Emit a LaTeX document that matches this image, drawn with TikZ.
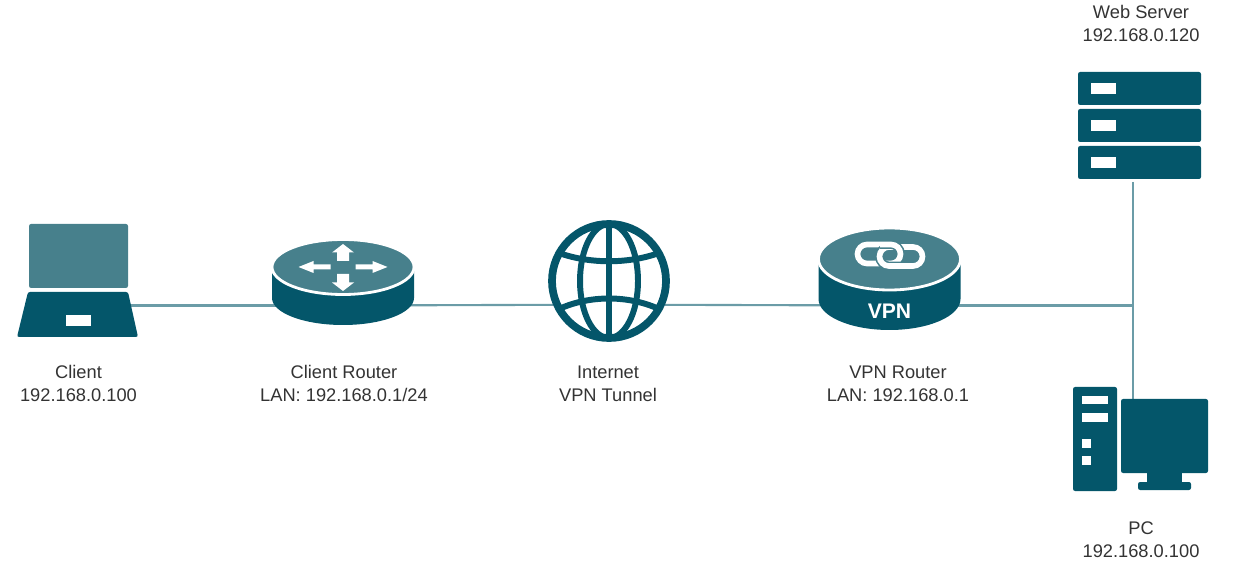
\documentclass[tikz,border=0pt]{standalone}
\usepackage{fontspec}
\setmainfont{Liberation Sans}
\usetikzlibrary{calc}
\definecolor{icondark}{HTML}{04566A}
\definecolor{iconlight}{HTML}{47808C}
\definecolor{linkcolor}{HTML}{6B9CA7}
\definecolor{labelcolor}{HTML}{333333}
\tikzset{
	devicebox/.style={inner sep=0pt, outer sep=0pt, minimum width=#1},
	link/.style={draw=linkcolor, line width=1.2pt},
	devlabel/.style={align=center, text=labelcolor, inner sep=0pt, font=\fontsize{10.4}{13.1}\selectfont},
	darkpart/.style={fill=icondark, rounded corners=1.2pt},
	lightpart/.style={fill=iconlight, rounded corners=1.2pt},
	cutout/.style={fill=white},
	ringline/.style={draw=white, line width=3.2pt, rounded corners=5.4pt},
	ringhalo/.style={draw=iconlight, line width=5pt, rounded corners=5.4pt},
	globeline/.style={draw=icondark, line width=3.4pt}
}
\begin{document}
\begin{tikzpicture}[x=0.02cm, y=-0.02cm]
	\useasboundingbox (0,0) rectangle (1250,563);

	\node[devicebox=2.42cm, minimum height=2.26cm] (client) at (77.5,280.5) {};
	\node[devicebox=2.84cm, minimum height=1.72cm] (clientrouter) at (343,283) {};
	\node[devicebox=2.44cm, minimum height=2.44cm, circle] (internet) at (609,281) {};
	\node[devicebox=2.82cm, minimum height=2.04cm] (vpnrouter) at (889.5,279) {};
	\node[devicebox=2.46cm, minimum height=2.12cm] (server) at (1139.5,125) {};
	\node[devicebox=0.88cm, minimum height=2.08cm] (tower) at (1095,439) {};
	\node[devicebox=1.74cm, minimum height=1.82cm] (monitor) at (1164.5,444.5) {};
	\coordinate (hub) at (1133,305.5);

	\draw[link] (client |- hub) -- (clientrouter |- hub);
	\draw[link] (clientrouter |- hub) -- (internet.203.68);
	\draw[link] (internet.-23.68) -- (vpnrouter |- hub);
	\draw[link] (vpnrouter |- hub) -- (hub);
	\draw[link, shorten <=2.2pt] (server.south -| hub) -- (hub);
	\draw[link] (hub) -- (monitor.north -| hub);

	% laptop
	\fill[lightpart] (29,224) rectangle (128,288);
	\fill[darkpart] (28,292) -- (128,292) -- (138,337) -- (17,337) -- cycle;
	\fill[cutout] (66,315) rectangle (91,326);

	% client router
	\fill[icondark] (272,270) -- (272,298) arc[start angle=180, end angle=0, x radius=71, y radius=27] -- (414,270) -- cycle;
	\filldraw[fill=iconlight, draw=white, line width=1.6pt] (343,267) ellipse [x radius=71, y radius=27.5];
	\foreach \s in {1,-1} {
		\fill[cutout] ($(343,267)+(\s*12.5,-2.5)$) -- ++(\s*17,0) -- ++(0,-3.5) -- ++(\s*15,6) -- ++(-\s*15,6) -- ++(0,-3.5) -- ++(-\s*17,0) -- cycle;
		\fill[cutout] ($(343,267.5)+(-6,\s*6.5)$) -- ++(0,\s*8.5) -- ++(-5,0) -- ++(11,\s*8.5) -- ++(11,-\s*8.5) -- ++(-5,0) -- ++(0,-\s*8.5) -- cycle;
	}

	% globe
	\draw[draw=icondark, line width=4.4pt] (internet) circle [radius=57];
	\draw[globeline] (609,281) ellipse [x radius=29, y radius=57];
	\draw[globeline] (609,224) -- (609,338);
	\draw[globeline] (559,253) .. controls (590,264) and (628,264) .. (659,253);
	\draw[globeline] (559,309) .. controls (590,295) and (628,295) .. (659,309);

	% vpn router
	\fill[icondark] (818.5,262) -- (818.5,299) arc[start angle=180, end angle=0, x radius=71, y radius=31] -- (960.5,262) -- cycle;
	\filldraw[fill=iconlight, draw=white, line width=1.6pt] (889.5,259) ellipse [x radius=71, y radius=31];
	\draw[ringline] (857.5,244.5) rectangle (900.5,263.5);
	\draw[ringhalo] (879.5,247) rectangle (922.5,266);
	\draw[ringline] (879.5,247) rectangle (922.5,266);
	\begin{scope}
		\clip (880,240) rectangle (910,253);
		\draw[ringhalo] (857.5,244.5) rectangle (900.5,263.5);
		\draw[ringline] (857.5,244.5) rectangle (900.5,263.5);
	\end{scope}
	\node[text=white, inner sep=0pt, font=\fontsize{12}{14}\selectfont\bfseries] (vpntext) at (889.5,311) {VPN};

	% server
	\foreach \top in {72,109,146} {
		\fill[darkpart] (1078,\top) rectangle (1201,\top+33);
		\fill[cutout] (1091,\top+11) rectangle (1116,\top+22);
	}

	% pc
	\fill[darkpart] (1073,387) rectangle (1117,491);
	\fill[cutout] (1082,396) rectangle (1108,404);
	\fill[cutout] (1082,413) rectangle (1108,422);
	\fill[cutout] (1082,439) rectangle (1091,448);
	\fill[cutout] (1082,456) rectangle (1091,465);
	\fill[darkpart] (1121,399) rectangle (1208,473);
	\fill[icondark] (1147,472) rectangle (1182,483);
	\fill[darkpart] (1138,482) rectangle (1191,490);

	\node[devlabel] (clientlabel) at (78.5,383.5) {Client\\192.168.0.100};
	\node[devlabel] (clientrouterlabel) at (344,383.5) {Client Router\\LAN: 192.168.0.1/24};
	\node[devlabel] (internetlabel) at (608,383.5) {Internet\\VPN Tunnel};
	\node[devlabel] (vpnrouterlabel) at (898,383.5) {VPN Router\\LAN: 192.168.0.1};
	\node[devlabel] (serverlabel) at (1141,23.5) {Web Server\\192.168.0.120};
	\node[devlabel] (pclabel) at (1141,539.5) {PC\\192.168.0.100};
\end{tikzpicture}
\end{document}
